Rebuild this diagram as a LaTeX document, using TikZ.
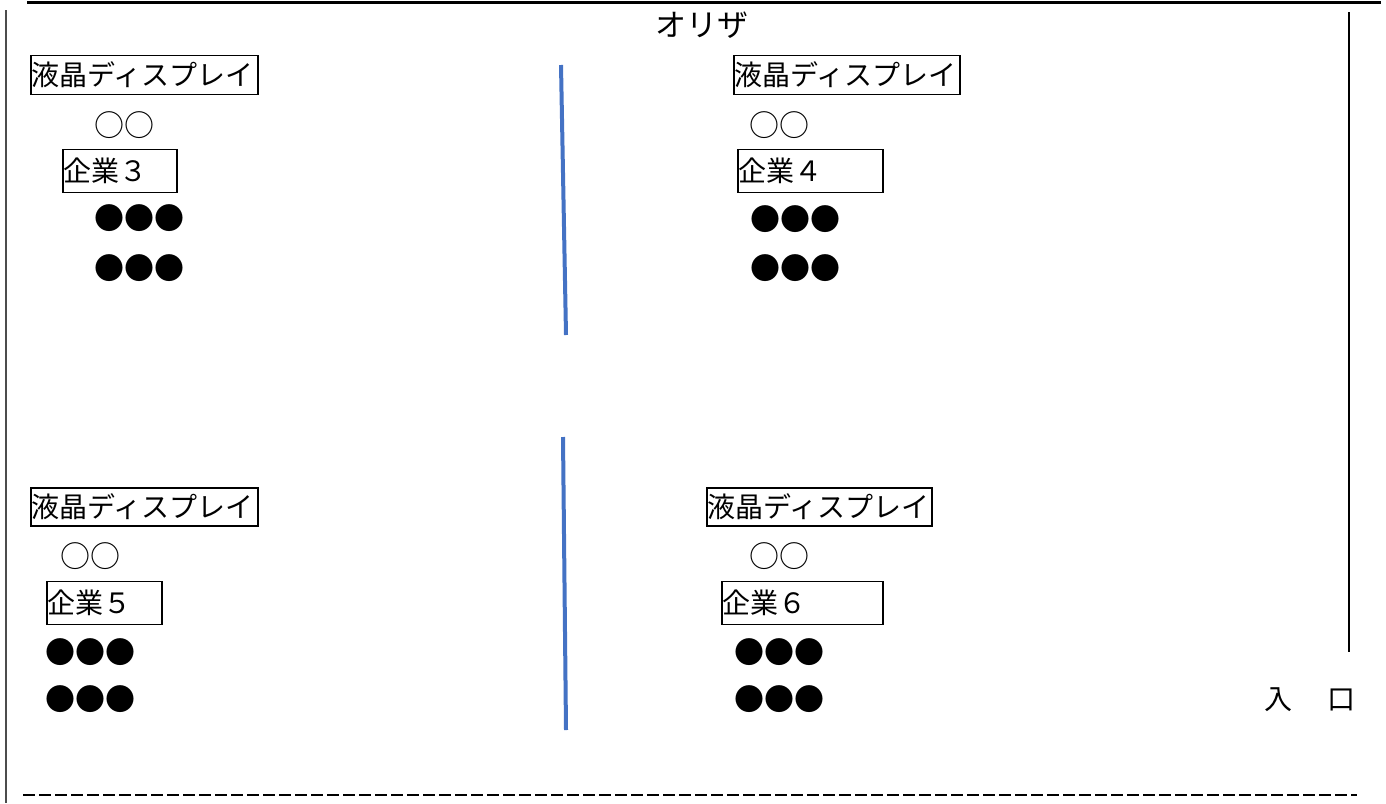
\documentclass[tikz,border=0pt]{standalone}
\usepackage{fontspec}
\setmainfont{Noto Sans CJK JP}
\definecolor{divblue}{HTML}{4472C4}
\tikzstyle{panel} = [draw,line width=1.8pt,anchor=west,inner xsep=1pt,inner ysep=0pt,align=left,font=\fontsize{28}{28}\selectfont]
\tikzstyle{entry} = [anchor=west,inner sep=0pt,font=\fontsize{30}{30}\selectfont]
\tikzstyle{divider} = [line width=4pt,divblue]

\begin{document}
\begin{tikzpicture}[x=1pt,y=-1pt]
	\useasboundingbox (0,0) rectangle (1386,803);
	
	\draw[line width=3pt] (27,2) -- (1381,2);
	\draw[line width=1.5pt,black!70] (6,10) -- (6,803);
	\draw[line width=1.2pt] (1349,12) -- (1349,652);
	\draw[line width=2.2pt,dash pattern=on 12pt off 4pt] (23,795) -- (1357,795);
	
	\node[font=\fontsize{31}{31}\selectfont] (title) at (702,25) {オリザ};
	
	\node[panel,text width=225pt,minimum height=39pt] (d3) at (30,75) {液晶ディスプレイ};
	\node[entry] (o3) at (94,125) {○○};
	\node[panel,text width=112pt,minimum height=43pt] (c3) at (62,171) {企業３};
	\node[entry] (b31) at (94,218) {●●●};
	\node[entry] (b32) at (94,268) {●●●};
	
	\node[panel,text width=224pt,minimum height=39pt] (d4) at (733,75) {液晶ディスプレイ};
	\node[entry] (o4) at (749,125) {○○};
	\node[panel,text width=143pt,minimum height=43pt] (c4) at (737,171) {企業４};
	\node[entry] (b41) at (750,219) {●●●};
	\node[entry] (b42) at (750,268) {●●●};
	
	\node[panel,text width=225pt,minimum height=38pt] (d5) at (30,507) {液晶ディスプレイ};
	\node[entry] (o5) at (60,556) {○○};
	\node[panel,text width=113pt,minimum height=43pt] (c5) at (46,603) {企業５};
	\node[entry] (b51) at (45,652) {●●●};
	\node[entry] (b52) at (45,699) {●●●};
	
	\node[panel,text width=223pt,minimum height=38pt] (d6) at (706,507) {液晶ディスプレイ};
	\node[entry] (o6) at (749,556) {○○};
	\node[panel,text width=159pt,minimum height=43pt] (c6) at (721,603) {企業６};
	\node[entry] (b61) at (734,652) {●●●};
	\node[entry] (b62) at (734,699) {●●●};
	
	\node[entry,anchor=center,font=\fontsize{28}{28}\selectfont] (door) at (1310,700) {入\hspace{36pt}口};
	
	\draw[divider] (561,65) -- (566,335);
	\draw[divider] (563,437) -- (566,730);
\end{tikzpicture}
\end{document}
